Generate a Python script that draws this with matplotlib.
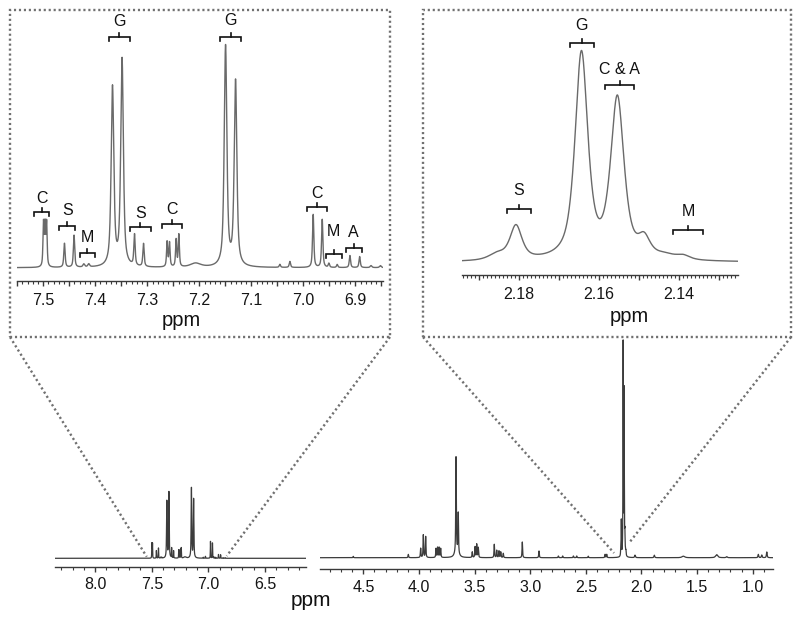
import numpy as np
import matplotlib
matplotlib.use("Agg")
import matplotlib.pyplot as plt
from matplotlib.ticker import MultipleLocator, FuncFormatter
from matplotlib.lines import Line2D
from matplotlib.patches import Rectangle

plt.rcParams['font.family'] = ['Liberation Sans', 'DejaVu Sans']

# ---------------- data ----------------
# Aromatic region peaks (ppm, height as read in the aromatic inset, half width ppm)
AROM_PPM = [7.4995, 7.4965, 7.4935, 7.4592, 7.4408, 7.4220, 7.4125,
            7.3669, 7.3485, 7.3246, 7.3073, 7.2619, 7.2573, 7.2446, 7.2394,
            7.2073, 7.1496, 7.1304, 7.0452, 7.0260, 6.9812, 6.9638,
            6.9510, 6.9350, 6.9106, 6.8919, 6.8700, 6.8520]
AROM_HEIGHT = [43, 40, 43, 24, 32, 3, 3,
               179, 207, 31, 23, 25, 24, 27, 32,
               4, 220, 185, 3, 6, 53, 48,
               4, 3, 12, 11, 2, 2]
AROM_HW = [0.0012, 0.0012, 0.0012, 0.0015, 0.0015, 0.002, 0.002,
           0.003, 0.003, 0.0015, 0.0015, 0.0013, 0.0013, 0.0013, 0.0013,
           0.012, 0.003, 0.003, 0.0015, 0.0015, 0.0015, 0.0015,
           0.0015, 0.0015, 0.0015, 0.0015, 0.002, 0.002]

# Methyl region peaks near 2.16 ppm (height as read in the methyl inset)
METHYL_PPM = [2.1855, 2.1808, 2.1644, 2.1554, 2.1487, 2.1435, 2.1389]
METHYL_HEIGHT = [6, 34, 206, 160, 18, 4, 4]
METHYL_HW = [0.0025, 0.0018, 0.0019, 0.0020, 0.0018, 0.003, 0.002]

# Other aliphatic peaks (height as read in the full spectrum)
ALIPH_PPM = [4.591, 4.096, 3.985, 3.961, 3.940, 3.847, 3.833, 3.819, 3.805,
             3.660, 3.667, 3.647, 3.521, 3.496, 3.481, 3.467,
             3.323, 3.301, 3.281, 3.265, 3.242, 3.071, 2.921,
             2.747, 2.708, 2.612, 2.582, 2.478, 2.327, 2.312,
             2.058, 1.884, 1.623, 1.323, 1.233, 0.949, 0.918, 0.873]
ALIPH_HEIGHT = [1.3, 3.3, 9.3, 22.7, 21, 9, 10, 10, 9,
                6, 95, 40, 5.7, 10.7, 13.3, 10,
                13.3, 7.3, 6.7, 5.7, 4.3, 15.7, 6.7,
                1.7, 1.7, 1.7, 1.7, 1.5, 3.3, 3.3,
                2.5, 2.5, 1.5, 3.0, 1.0, 3.3, 2.7, 5.7]
ALIPH_HW = [0.003, 0.003, 0.003, 0.003, 0.003, 0.003, 0.003, 0.003, 0.003,
            0.02, 0.003, 0.003, 0.003, 0.003, 0.003, 0.003,
            0.003, 0.003, 0.003, 0.003, 0.003, 0.003, 0.003,
            0.003, 0.003, 0.003, 0.003, 0.003, 0.003, 0.003,
            0.004, 0.004, 0.015, 0.012, 0.006, 0.004, 0.004, 0.004]

# scale ratios between the inset panels and the full spectrum
AROM_TO_MAIN = 0.318
METHYL_TO_MAIN = 1.028

# Assignment brackets: (left ppm, right ppm, bracket y, label, label y)
AROM_BRACKETS = [(7.517, 7.488, 56, 'C', 69.5), (7.469, 7.439, 41.7, 'S', 57),
                 (7.430, 7.400, 14.4, 'M', 30.4), (7.373, 7.334, 230.4, 'G', 246),
                 (7.334, 7.293, 41, 'S', 54.4), (7.2715, 7.233, 43.7, 'C', 58.4),
                 (7.160, 7.1196, 230.4, 'G', 247), (6.9927, 6.9542, 61, 'C', 74.4),
                 (6.9562, 6.9265, 13.7, 'M', 36), (6.9189, 6.8881, 19.4, 'A', 35)]
METHYL_BRACKETS = [(2.1830, 2.1771, 53, 'S', 72.3), (2.1673, 2.1613, 219, 'G', 237.3),
                   (2.1585, 2.1512, 177.3, 'C & A', 192.3), (2.1414, 2.1340, 32.3, 'M', 50.6)]

MAIN_TICKS_LEFT = [8.0, 7.5, 7.0, 6.5]
MAIN_TICKS_RIGHT = [4.5, 4.0, 3.5, 3.0, 2.5, 2.0, 1.5, 1.0]


def lineshape(x, ppm, h, w, eta=0.7):
    out = np.zeros_like(x)
    for c, hh, ww in zip(ppm, h, w):
        d = (x - c) / ww
        out += hh * (eta / (1 + d * d) + (1 - eta) * np.exp(-np.log(2) * d * d))
    return out


def spectrum(x):
    return (lineshape(x, AROM_PPM, np.array(AROM_HEIGHT) * AROM_TO_MAIN, AROM_HW)
            + lineshape(x, METHYL_PPM, np.array(METHYL_HEIGHT) * METHYL_TO_MAIN, METHYL_HW)
            + lineshape(x, ALIPH_PPM, ALIPH_HEIGHT, ALIPH_HW))


# ---------------- figure ----------------
W, H = 800, 620
fig = plt.figure(figsize=(W / 100, H / 100), dpi=100)


def fx(x):
    return x / W


def fy(y):
    return 1 - y / H


def ax_at(l, r, t, b):
    return fig.add_axes([fx(l), fy(b), (r - l) / W, (b - t) / H])


AXC = '#3a3a3a'


def style(ax, fs=11.5, pad=5):
    for s in ['top', 'left', 'right']:
        ax.spines[s].set_visible(False)
    ax.spines['bottom'].set_color(AXC)
    ax.spines['bottom'].set_linewidth(1.0)
    ax.set_yticks([])
    ax.patch.set_alpha(0)
    ax.tick_params(axis='x', which='major', length=3.5, width=1.0, color=AXC,
                   labelsize=fs, pad=pad, labelcolor='#151515')
    ax.tick_params(axis='x', which='minor', length=1.8, width=0.8, color=AXC)


def bracket(ax, xl, xr, y, label, ty, fs=11.5):
    ax.plot([xl, xl, xr, xr], [y - 4, y, y, y - 4], color='#111111', lw=1.2,
            solid_joinstyle='miter', clip_on=False)
    xc = (xl + xr) / 2
    ax.plot([xc, xc], [y, y + 4], color='#111111', lw=1.2, clip_on=False)
    ax.text(xc, ty, label, ha='center', va='center', fontsize=fs, color='#111111')


def fmt_every(step):
    def f(v, pos):
        k = v / step
        if abs(k - round(k)) < 1e-6:
            return ('%.1f' % v) if step >= 0.1 else ('%.2f' % v)
        return ''
    return FuncFormatter(f)


# dotted boxes and connectors
dot = dict(edgecolor='#707070', lw=1.7, linestyle=(0, (0.9, 1.2)))
fig.add_artist(Rectangle((fx(10), fy(337)), 380 / W, 327 / H, transform=fig.transFigure,
                         fill=False, **dot))
fig.add_artist(Rectangle((fx(423), fy(337)), 368 / W, 327 / H, transform=fig.transFigure,
                         fill=False, **dot))
for (x0, y0, x1, y1) in [(10, 337, 146.7, 556.7), (390, 337, 226.7, 556),
                         (423, 337, 614, 553), (791, 337, 629, 543)]:
    fig.add_artist(Line2D([fx(x0), fx(x1)], [fy(y0), fy(y1)], transform=fig.transFigure,
                          color='#707070', lw=1.7, linestyle=(0, (0.9, 1.2))))

# ---- inset 1: aromatic region ----
ax1 = ax_at(16.7, 383, 12, 281)
x1 = np.linspace(7.551, 6.847, 6000)
ax1.plot(x1, spectrum(x1) / AROM_TO_MAIN, color='#6a6a6a', lw=1.0)
ax1.set_xlim(7.551, 6.847)
ax1.set_ylim(-13.3, 255.7)
style(ax1)
ax1.xaxis.set_major_locator(MultipleLocator(0.05))
ax1.xaxis.set_minor_locator(MultipleLocator(0.01))
ax1.xaxis.set_major_formatter(fmt_every(0.1))
for b in AROM_BRACKETS:
    bracket(ax1, *b)
fig.text(fx(181), fy(320), 'ppm', ha='center', va='center', fontsize=14.5, color='#111111')

# ---- inset 2: methyl region ----
ax2 = ax_at(461.7, 738.3, 12, 275)
x2 = np.linspace(2.1944, 2.1251, 3000)
ax2.plot(x2, spectrum(x2) / METHYL_TO_MAIN, color='#6a6a6a', lw=1.0)
ax2.set_xlim(2.1944, 2.1251)
ax2.set_ylim(-12.7, 250.3)
style(ax2)
ax2.xaxis.set_major_locator(MultipleLocator(0.01))
ax2.xaxis.set_minor_locator(MultipleLocator(0.001))
ax2.xaxis.set_major_formatter(FuncFormatter(
    lambda v, p: ('%.2f' % v) if abs(v * 50 - round(v * 50)) < 1e-6 else ''))
for b in METHYL_BRACKETS:
    bracket(ax2, *b)
fig.text(fx(629), fy(317), 'ppm', ha='center', va='center', fontsize=14.5, color='#111111')

# ---- full spectrum, left part ----
ax3 = ax_at(55, 305.7, 330, 566.7)
x3 = np.linspace(8.355, 6.14, 22000)
ax3.plot(x3, spectrum(x3), color='#3c3c3c', lw=0.9)
ax3.set_xlim(8.355, 6.14)
ax3.set_ylim(-8.4, 228.3)
style(ax3, pad=4)
ax3.set_xticks(MAIN_TICKS_LEFT)
ax3.set_xticklabels(['%.1f' % v for v in MAIN_TICKS_LEFT])
ax3.xaxis.set_minor_locator(MultipleLocator(0.1))

# ---- full spectrum, right part ----
ax4 = ax_at(320, 773, 330, 569.3)
x4 = np.linspace(4.89, 0.817, 40000)
ax4.plot(x4, spectrum(x4), color='#3c3c3c', lw=0.9)
ax4.set_xlim(4.89, 0.817)
ax4.set_ylim(-11.6, 227.7)
style(ax4, pad=4)
ax4.set_xticks(MAIN_TICKS_RIGHT)
ax4.set_xticklabels(['%.1f' % v for v in MAIN_TICKS_RIGHT])
ax4.xaxis.set_minor_locator(MultipleLocator(0.1))

fig.text(fx(311), fy(601), 'ppm', ha='center', va='center', fontsize=15, color='#111111')

fig.savefig('out.png', dpi=100)
